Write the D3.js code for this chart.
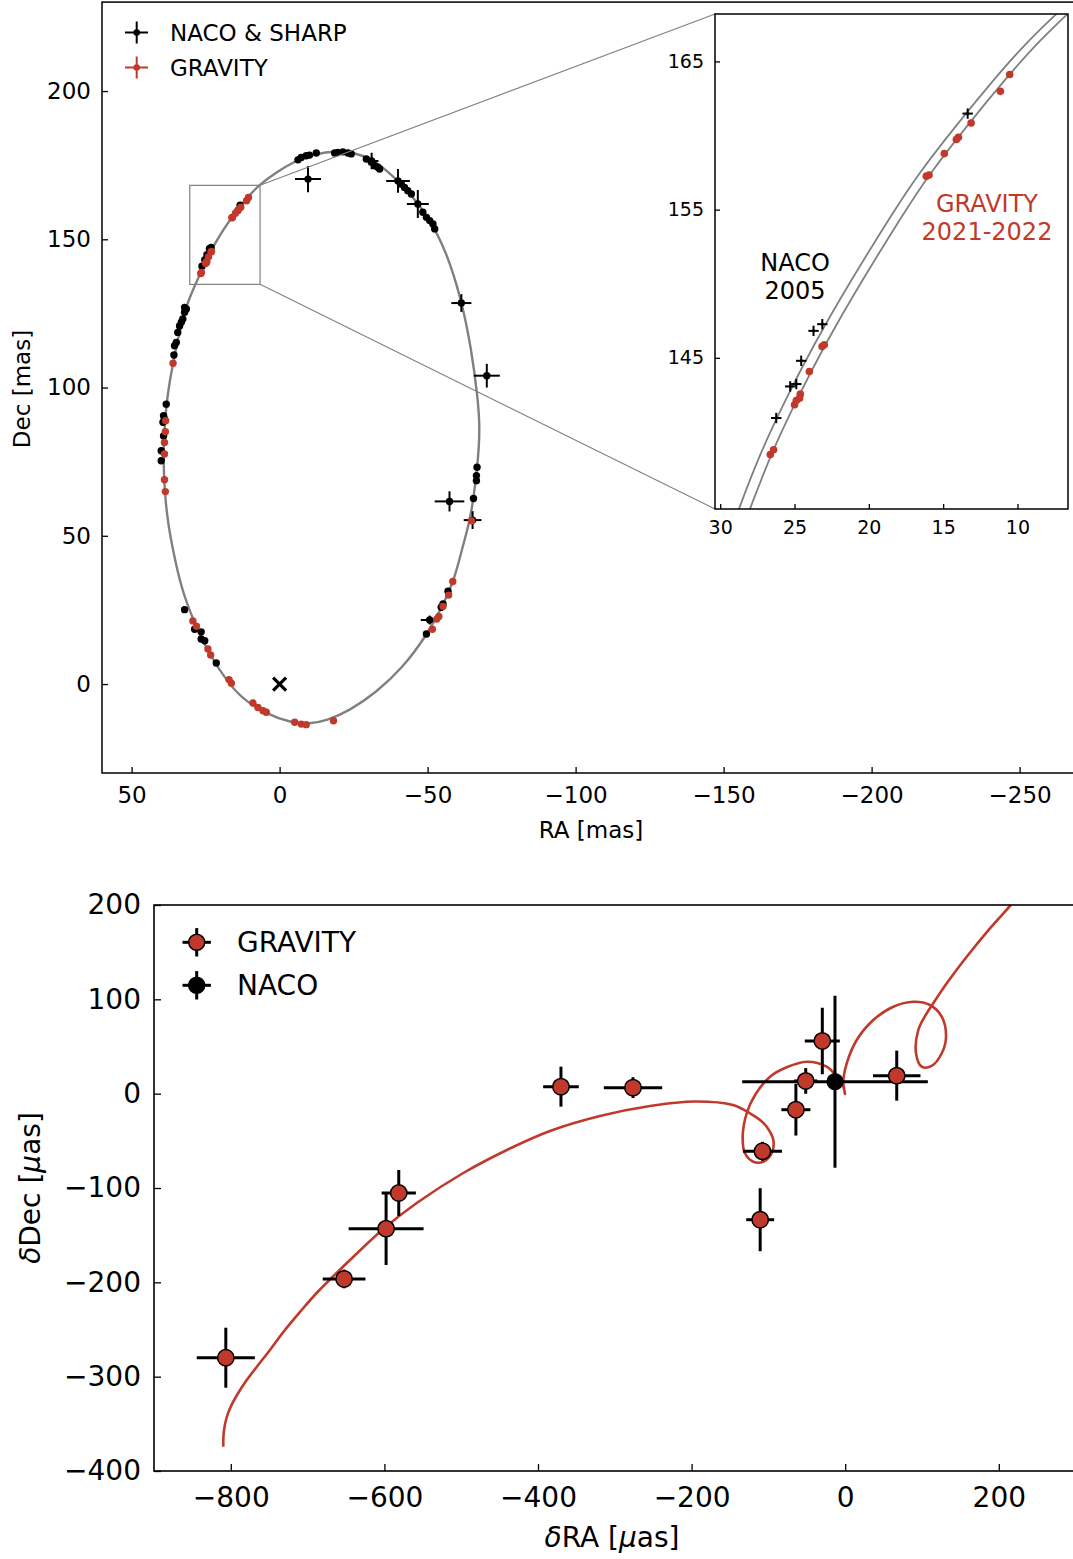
<!DOCTYPE html>
<html>
<head>
<meta charset="utf-8">
<script src="https://cdn.jsdelivr.net/npm/d3@7"></script>
<style>
body { margin: 0; background: #fff; }
text { font-family: "DejaVu Sans", sans-serif; }
</style>
</head>
<body>
<script>
// ---------- data: top panel (mas) ----------
var nacoRA = [-6.2,-7.3,-9.0,-10.1,-12.4,-18.6,-19.7,-21.4,-23.1,-24.2, -9.6,-31.1,-40.0,-46.7,
  -29.3,-31.0,-32.1,-33.2,-33.8, -41.1,-42.2,-43.3,-44.5, -48.4,-49.6,-50.7,-51.8,-52.4,
  32.1,31.5,32.1,32.7,33.2,33.8,34.4,34.9,35.5,35.7,38.3,39.2,38.9,39.4,39.2,40.0,40.0,
  -61.4,-70.0,-66.7,-66.5,-66.5,-65.5,-57.4,-65.2, -56.9,-54.6,-55.2,-50.7,-49.6,
  32.1,28.7,26.5,26.5,25.3,21.4];
var nacoDec = [176.8,177.6,178.2,178.4,179.1,179.1,179.3,179.5,179.1,178.8, 170.3,176.4,169.7,161.9,
  177.1,176.0,174.8,174.3,173.7, 168.6,167.5,166.4,165.3, 159.1,157.4,156.3,155.2,153.5,
  127.0,126.5,125.4,123.1,122.0,120.8,118.6,115.2,114.1,111.0,94.4,90.5,89.4,88.3,83.7,78.7,75.3,
  128.5,104.0,73.1,70.3,68.6,62.6,61.6,55.3, 31.3,25.9,27.0,21.6,16.9,
  25.1,18.5,17.6,15.2,14.6,7.1];
var nacoErrRA = [0.4,0.4,0.4,0.4,0.4,0.4,0.4,0.4,0.4,0.4, 4.4,2.3,4.0,3.7,
  0.4,0.4,0.4,0.4,0.4, 0.4,0.4,0.4,0.4, 0.4,0.4,0.4,0.4,0.4,
  0.4,0.4,0.4,0.4,0.4,0.4,0.4,0.4,0.4,0.4,0.4,0.4,0.4,0.4,0.4,0.4,0.4,
  3.4,4.4,0.4,0.4,0.4,0.4,5.0,3.0, 0.4,0.4,0.4,3.0,0.4,
  0.4,0.4,0.4,0.4,0.4,0.4];
var nacoErrDec = [0.4,0.4,0.4,0.4,0.4,0.4,0.4,0.4,0.4,0.4, 4.4,2.8,4.0,4.7,
  0.4,0.4,0.4,0.4,0.4, 0.4,0.4,0.4,0.4, 0.4,0.4,0.4,0.4,0.4,
  0.4,0.4,0.4,0.4,0.4,0.4,0.4,0.4,0.4,0.4,0.4,0.4,0.4,0.4,0.4,0.4,0.4,
  3.0,4.0,0.4,0.4,0.4,0.4,3.4,3.0, 0.4,0.4,0.4,1.5,0.4,
  0.4,0.4,0.4,0.4,0.4,0.4];

// NACO 2005 epochs (shown in the zoom)
var naco2005RA = [26.23,25.29,24.88,24.55,23.72,23.13,13.35];
var naco2005Dec = [140.94,143.07,143.23,144.80,146.82,147.27,161.48];
var naco2005Err = [0.35,0.35,0.35,0.35,0.35,0.35,0.35];

var gravRA = [36.0,38.5,38.6,38.9,38.9,38.9,38.6,29.3,28.1,24.2,23.3,17.1,16.3,9.0,7.3,5.6,4.5,
  -5.1,-7.3,-9.0,-18.2,-58.5,-57.1,-55.2,-53.8,-53.1,-51.6,-64.8,
  26.63,26.41,25.0,24.88,24.66,24.61,24.0,23.15,23.0,16.13,15.95,14.92,14.11,13.97,13.12,11.15,10.52];
var gravDec = [108.2,88.8,85.1,81.5,77.6,68.9,64.9,21.3,19.5,11.8,9.8,1.5,0.3,-6.4,-7.9,-9.0,-9.5,
  -12.9,-13.5,-13.7,-12.4,34.6,30.0,26.2,22.8,21.9,18.5,55.1,
  138.47,138.8,141.83,142.12,142.28,142.55,144.08,145.76,145.88,157.26,157.34,158.78,159.73,159.88,160.85,162.98,164.12];

// best-fit orbit
var orbitRA = [-20.3,-24.8,-31.5,-38.3,-43.9,-50.7,-56.3,-61.4,-64.8,-67.0,-67.6,-67.3,-66.7,-65.5,-64.0,-61.9,
  -59.1,-55.2,-49.6,-41.7,-32.7,-23.6,-15.8,-10.1,-3.4,4.5,12.4,17.5,24.0,28.7,33.2,36.4,37.7,38.6,39.1,39.2,
  38.9,38.3,37.2,35.5,33.4,31.0,28.4,25.2,23.3,21.0,17.9,13.6,10.9,7.1,1.1,-4.5,-11.3];
var orbitDec = [179.9,179.3,177.1,171.4,165.8,156.8,146.0,129.8,113.0,96.1,87.1,79.3,72.5,62.4,54.0,46.6,
  35.4,26.4,16.3,5.6,-2.8,-9.0,-12.4,-13.5,-12.9,-10.1,-5.1,0.5,10.5,20.4,32.0,47.0,54.5,62.4,70.3,79.3,
  86.0,93.9,101.8,110.7,120.8,129.0,134.8,142.2,145.9,150.0,155.0,160.85,164.1,168.2,172.6,176.0,178.8];

// the two orbit traces visible in the zoom
var orbitOuterRA = [29.2,28.75,27.3,25.6,23.7,21.35,18.25,16.75,14.0,11.3,9.65,7.4,6.3];
var orbitOuterDec = [133.5,134.8,138.6,142.2,145.9,150.0,155.0,157.3,160.85,164.12,166.0,168.2,169.2];
var orbitInnerRA = [28.5,28.0,26.55,24.85,22.95,20.6,17.5,16.0,13.25,10.55,8.9,6.85,5.8];
var orbitInnerDec = [133.5,134.8,138.6,142.2,145.9,150.0,155.0,157.3,160.85,164.12,166.0,168.0,169.0];

var mainXTicks = [50, 0, -50, -100, -150, -200, -250];
var mainYTicks = [0, 50, 100, 150, 200];
var insetXTicks = [30, 25, 20, 15, 10];
var insetYTicks = [145, 155, 165];

// ---------- data: bottom panel (µas) ----------
var resGravRA = [-806.5,-652.5,-597.8,-581.3,-370.1,-276.3,-107.7,-64.2,-51.4,-29.8,67.1,-110.7];
var resGravDec = [-279.9,-196.4,-143.1,-105.3,7.4,6.4,-61.1,-17.0,13.5,55.9,19.1,-133.6];
var resGravErrRA = [37.8,27.8,48.8,22.3,23.2,38.0,25.4,18.9,15.0,22.8,30.9,18.2];
var resGravErrDec = [31.8,9.9,38.5,24.4,21.2,11.0,10.0,27.4,13.6,35.3,26.5,33.4];
var resNacoRA = [-13.3];
var resNacoDec = [12.7];
var resNacoErrRA = [120.9];
var resNacoErrDec = [91.2];

var resModelRA = [-809.8,-809.1,-805.6,-799.7,-791.9,-780.2,-766.3,-749.0,-731.6,-709.9,-688.2,-644.8,-601.4,
  -557.9,-497.3,-436.5,-384.4,-319.3,-254.2,-195.6,-146.1,-124.0,-110.9,-102.2,-93.6,-95.7,-106.6,-119.7,
  -130.5,-133.5,-128.3,-117.4,-97.9,-76.2,-50.1,-24.1,-11.1,-2.5,-0.3,-2.5,2.0,15.0,36.6,62.6,88.7,110.4,
  125.7,131.3,125.7,112.6,99.6,92.2,95.2,106.1,114.7,132.2,158.2,188.5,214.6,220.0];
var resModelDec = [-374.2,-358.4,-343.8,-331.1,-319.4,-304.6,-289.7,-271.7,-252.6,-231.4,-211.3,-176.3,-143.4,
  -115.9,-84.1,-58.1,-39.5,-23.6,-13.0,-8.3,-12.0,-20.8,-27.9,-35.0,-49.1,-63.2,-72.1,-72.1,
  -63.2,-45.6,-20.8,-1.4,18.0,28.0,33.9,28.6,18.0,7.4,-0.3,12.7,32.2,56.9,78.1,92.2,97.5,94.0,
  81.6,60.4,42.8,29.4,28.6,42.8,67.5,85.2,95.8,117.0,145.2,175.3,199.0,205.0];

var resXTicks = [-800, -600, -400, -200, 0, 200];
var resYTicks = [-400, -300, -200, -100, 0, 100, 200];

// ---------- setup ----------
var red = "#c0392b", grey = "#808080";
var svg = d3.select("body").append("svg")
    .attr("width", 1073)
    .attr("height", 1559)
    .style("background", "#fff");

var defs = svg.append("defs");

function zip(a, b) { return a.map(function(v, i) { return [v, b[i]]; }); }

function styleAxis(g, size) {
    g.attr("font-family", "DejaVu Sans").attr("font-size", size);
    g.select(".domain").remove();
    g.selectAll(".tick line").attr("stroke", "#000").attr("stroke-width", 1.3);
    g.selectAll(".tick text").attr("fill", "#000");
}

// error-bar crosses
function drawErr(g, xs, ys, ex, ey, sx, sy, w) {
    var idx = d3.range(xs.length);
    g.selectAll(null).data(idx).enter().append("line")
        .attr("x1", function(i) { return sx(xs[i] - ex[i]); })
        .attr("x2", function(i) { return sx(xs[i] + ex[i]); })
        .attr("y1", function(i) { return sy(ys[i]); })
        .attr("y2", function(i) { return sy(ys[i]); })
        .attr("stroke", "#000").attr("stroke-width", w);
    g.selectAll(null).data(idx).enter().append("line")
        .attr("x1", function(i) { return sx(xs[i]); })
        .attr("x2", function(i) { return sx(xs[i]); })
        .attr("y1", function(i) { return sy(ys[i] - ey[i]); })
        .attr("y2", function(i) { return sy(ys[i] + ey[i]); })
        .attr("stroke", "#000").attr("stroke-width", w);
}

function drawDots(g, xs, ys, sx, sy, r, fill, edge) {
    g.selectAll(null).data(d3.range(xs.length)).enter().append("circle")
        .attr("cx", function(i) { return sx(xs[i]); })
        .attr("cy", function(i) { return sy(ys[i]); })
        .attr("r", r)
        .attr("fill", fill)
        .attr("stroke", edge ? "#000" : "none")
        .attr("stroke-width", edge ? 1.5 : 0);
}

// ---------- top panel ----------
var x = d3.scaleLinear().domain([60, -270]).range([102, 1078.8]);
var y = d3.scaleLinear().domain([-30, 230]).range([773, 2.1]);

defs.append("clipPath").attr("id", "clipMain").append("rect")
    .attr("x", 102).attr("y", 2.1).attr("width", 976.7).attr("height", 770.9);

var topPanel = svg.append("g");

topPanel.append("g")
    .attr("transform", "translate(0,773)")
    .call(d3.axisBottom(x).tickValues(mainXTicks).tickSizeInner(-6).tickSizeOuter(0).tickPadding(14))
    .call(styleAxis, 23);
topPanel.append("g")
    .attr("transform", "translate(102,0)")
    .call(d3.axisLeft(y).tickValues(mainYTicks).tickSizeInner(-6).tickSizeOuter(0).tickPadding(11))
    .call(styleAxis, 23);

var plot = topPanel.append("g").attr("clip-path", "url(#clipMain)");

var orbitLine = d3.line()
    .x(function(d) { return x(d[0]); })
    .y(function(d) { return y(d[1]); })
    .curve(d3.curveBasisClosed);

plot.append("path")
    .datum(zip(orbitRA, orbitDec))
    .attr("d", orbitLine)
    .attr("fill", "none").attr("stroke", grey).attr("stroke-width", 2.4);

// Sgr A*
var cx0 = x(0), cy0 = y(0);
plot.append("path")
    .attr("d", "M" + (cx0 - 6.5) + "," + (cy0 - 6.5) + "L" + (cx0 + 6.5) + "," + (cy0 + 6.5) +
               "M" + (cx0 - 6.5) + "," + (cy0 + 6.5) + "L" + (cx0 + 6.5) + "," + (cy0 - 6.5))
    .attr("stroke", "#000").attr("stroke-width", 3.2);

drawErr(plot, nacoRA, nacoDec, nacoErrRA, nacoErrDec, x, y, 2);
drawDots(plot, nacoRA, nacoDec, x, y, 3.7, "#000", false);
drawDots(plot, naco2005RA, naco2005Dec, x, y, 3.7, "#000", false);
drawDots(plot, gravRA, gravDec, x, y, 3.7, red, false);

// spines
topPanel.append("rect")
    .attr("x", 102).attr("y", 2.1).attr("width", 976.7).attr("height", 770.9)
    .attr("fill", "none").attr("stroke", "#000").attr("stroke-width", 1.5);

topPanel.append("text")
    .attr("x", 591).attr("y", 838)
    .attr("text-anchor", "middle").attr("font-size", 23)
    .text("RA [mas]");
topPanel.append("text")
    .attr("transform", "translate(22,389) rotate(-90)")
    .attr("dy", "0.35em")
    .attr("text-anchor", "middle").attr("font-size", 23)
    .text("Dec [mas]");

// legend
var legTop = [["NACO & SHARP", "#000", 32.5], ["GRAVITY", red, 67.5]];
legTop.forEach(function(l) {
    var gl = topPanel.append("g");
    gl.append("line").attr("x1", 125).attr("x2", 148).attr("y1", l[2]).attr("y2", l[2])
        .attr("stroke", l[1]).attr("stroke-width", 2);
    gl.append("line").attr("x1", 136.7).attr("x2", 136.7).attr("y1", l[2] - 11).attr("y2", l[2] + 11)
        .attr("stroke", l[1]).attr("stroke-width", 2);
    gl.append("circle").attr("cx", 136.7).attr("cy", l[2]).attr("r", 3.3).attr("fill", l[1]);
    gl.append("text").attr("x", 170).attr("y", l[2]).attr("dy", "0.36em")
        .attr("font-size", 23).text(l[0]);
});

// ---------- inset ----------
var ix = d3.scaleLinear().domain([30.35, 6.6]).range([715, 1068]);
var iy = d3.scaleLinear().domain([134.8, 168.2]).range([509, 14]);

// zoom box and connectors
var bx0 = x(ix.domain()[0]), bx1 = x(ix.domain()[1]);
var by0 = y(iy.domain()[1]), by1 = y(iy.domain()[0]);
topPanel.append("rect")
    .attr("x", bx0).attr("y", by0).attr("width", bx1 - bx0).attr("height", by1 - by0)
    .attr("fill", "none").attr("stroke", grey).attr("stroke-width", 1.2);
topPanel.append("line").attr("x1", bx1).attr("y1", by0).attr("x2", 715).attr("y2", 14)
    .attr("stroke", grey).attr("stroke-width", 1.1);
topPanel.append("line").attr("x1", bx1).attr("y1", by1).attr("x2", 715).attr("y2", 509)
    .attr("stroke", grey).attr("stroke-width", 1.1);

var inset = svg.append("g");
inset.append("rect").attr("x", 715).attr("y", 14).attr("width", 353).attr("height", 495).attr("fill", "#fff");

defs.append("clipPath").attr("id", "clipInset").append("rect")
    .attr("x", 715).attr("y", 14).attr("width", 353).attr("height", 495);

inset.append("g")
    .attr("transform", "translate(0,509)")
    .call(d3.axisBottom(ix).tickValues(insetXTicks).tickSizeInner(-5).tickSizeOuter(0).tickPadding(12))
    .call(styleAxis, 19);
inset.append("g")
    .attr("transform", "translate(715,0)")
    .call(d3.axisLeft(iy).tickValues(insetYTicks).tickSizeInner(-5).tickSizeOuter(0).tickPadding(11))
    .call(styleAxis, 19);

var ip = inset.append("g").attr("clip-path", "url(#clipInset)");
var insetLine = d3.line()
    .x(function(d) { return ix(d[0]); })
    .y(function(d) { return iy(d[1]); })
    .curve(d3.curveBasis);
ip.append("path").datum(zip(orbitOuterRA, orbitOuterDec)).attr("d", insetLine)
    .attr("fill", "none").attr("stroke", grey).attr("stroke-width", 1.8);
ip.append("path").datum(zip(orbitInnerRA, orbitInnerDec)).attr("d", insetLine)
    .attr("fill", "none").attr("stroke", grey).attr("stroke-width", 1.8);

drawErr(ip, naco2005RA, naco2005Dec, naco2005Err, naco2005Err, ix, iy, 2);
drawDots(ip, naco2005RA, naco2005Dec, ix, iy, 1.6, "#000", false);
drawDots(ip, gravRA, gravDec, ix, iy, 3.8, red, false);

inset.append("rect").attr("x", 715).attr("y", 14).attr("width", 353).attr("height", 495)
    .attr("fill", "none").attr("stroke", "#000").attr("stroke-width", 1.5);

inset.append("text").attr("x", 795).attr("y", 262).attr("dy", "0.36em")
    .attr("text-anchor", "middle").attr("font-size", 24).text("NACO");
inset.append("text").attr("x", 795).attr("y", 290).attr("dy", "0.36em")
    .attr("text-anchor", "middle").attr("font-size", 24).text("2005");
inset.append("text").attr("x", 987).attr("y", 203).attr("dy", "0.36em")
    .attr("text-anchor", "middle").attr("font-size", 24).attr("fill", red).text("GRAVITY");
inset.append("text").attr("x", 987).attr("y", 231).attr("dy", "0.36em")
    .attr("text-anchor", "middle").attr("font-size", 24).attr("fill", red).text("2021-2022");

// ---------- bottom panel: residuals ----------
var rx = d3.scaleLinear().domain([-900, 300]).range([154, 1075.6]);
var ry = d3.scaleLinear().domain([-400, 200]).range([1471, 905]);

defs.append("clipPath").attr("id", "clipRes").append("rect")
    .attr("x", 154).attr("y", 905).attr("width", 921.6).attr("height", 566);

var bot = svg.append("g");

bot.append("g")
    .attr("transform", "translate(0,1471)")
    .call(d3.axisBottom(rx).tickValues(resXTicks).tickSizeInner(-7).tickSizeOuter(0).tickPadding(16))
    .call(styleAxis, 28);
bot.append("g")
    .attr("transform", "translate(154,0)")
    .call(d3.axisLeft(ry).tickValues(resYTicks).tickSizeInner(-7).tickSizeOuter(0).tickPadding(13))
    .call(styleAxis, 28);

var rp = bot.append("g").attr("clip-path", "url(#clipRes)");

rp.append("path")
    .datum(zip(resModelRA, resModelDec))
    .attr("d", d3.line()
        .x(function(d) { return rx(d[0]); })
        .y(function(d) { return ry(d[1]); })
        .curve(d3.curveCatmullRom.alpha(0.5)))
    .attr("fill", "none").attr("stroke", red).attr("stroke-width", 2.6);

drawErr(rp, resNacoRA, resNacoDec, resNacoErrRA, resNacoErrDec, rx, ry, 3);
drawErr(rp, resGravRA, resGravDec, resGravErrRA, resGravErrDec, rx, ry, 3);
drawDots(rp, resGravRA, resGravDec, rx, ry, 8.2, red, true);
drawDots(rp, resNacoRA, resNacoDec, rx, ry, 8.6, "#000", false);

bot.append("rect")
    .attr("x", 154).attr("y", 905).attr("width", 921.6).attr("height", 566)
    .attr("fill", "none").attr("stroke", "#000").attr("stroke-width", 1.6);

// legend
var legBot = [["GRAVITY", red, 942.3], ["NACO", "#000", 985.3]];
legBot.forEach(function(l) {
    var gl = bot.append("g");
    gl.append("line").attr("x1", 182.5).attr("x2", 210.9).attr("y1", l[2]).attr("y2", l[2])
        .attr("stroke", "#000").attr("stroke-width", 3);
    gl.append("line").attr("x1", 196.7).attr("x2", 196.7).attr("y1", l[2] - 14.2).attr("y2", l[2] + 14.2)
        .attr("stroke", "#000").attr("stroke-width", 3);
    gl.append("circle").attr("cx", 196.7).attr("cy", l[2]).attr("r", 8)
        .attr("fill", l[1]).attr("stroke", "#000").attr("stroke-width", 1.5);
    gl.append("text").attr("x", 237).attr("y", l[2]).attr("dy", "0.36em")
        .attr("font-size", 28).text(l[0]);
});

// axis titles
var xt = bot.append("text").attr("x", 612).attr("y", 1547)
    .attr("text-anchor", "middle").attr("font-size", 28);
xt.append("tspan").attr("font-style", "italic").text("δ");
xt.append("tspan").text("RA [");
xt.append("tspan").attr("font-style", "italic").text("μ");
xt.append("tspan").text("as]");

var yt = bot.append("text").attr("transform", "translate(30,1188) rotate(-90)")
    .attr("dy", "0.36em").attr("text-anchor", "middle").attr("font-size", 28);
yt.append("tspan").attr("font-style", "italic").text("δ");
yt.append("tspan").text("Dec [");
yt.append("tspan").attr("font-style", "italic").text("μ");
yt.append("tspan").text("as]");
</script>
</body>
</html>
